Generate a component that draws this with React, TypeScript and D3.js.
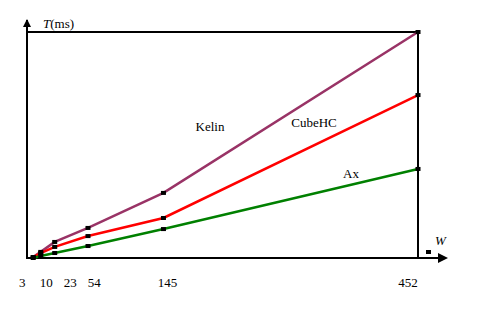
import React from 'react';
import * as d3 from 'd3';

// data (y in arbitrary ms units, Kelin at 452 = 100)
const sizes = [3, 10, 23, 54, 145, 452];
const kelin = [0.4, 2.7, 7.1, 13.3, 28.8, 100];
const cubeHC = [0.4, 2.2, 4.9, 9.7, 17.7, 72.1];
const ax = [0, 0.9, 2.2, 5.3, 12.8, 39.4];
const seriesNames = ['Kelin', 'CubeHC', 'Ax'];
const seriesColors = ['#993366', '#ff0000', '#008000'];

const W = 492;
const H = 324;
const left = 27;
const right = 418;
const top = 32;
const bottom = 258;

// spread labels so they keep a minimum gap, clusters centred on their mean
function dodge(xs: number[], gap: number): number[] {
  let clusters: { sum: number; n: number }[] = [];
  xs.forEach((x) => {
    clusters.push({ sum: x, n: 1 });
    while (clusters.length > 1) {
      const a = clusters[clusters.length - 2];
      const b = clusters[clusters.length - 1];
      const aEnd = a.sum / a.n + ((a.n - 1) * gap) / 2;
      const bStart = b.sum / b.n - ((b.n - 1) * gap) / 2;
      if (bStart - aEnd >= gap) break;
      clusters.splice(clusters.length - 2, 2, { sum: a.sum + b.sum, n: a.n + b.n });
    }
  });
  const out: number[] = [];
  clusters.forEach((c) => {
    const mid = c.sum / c.n;
    for (let i = 0; i < c.n; i++) out.push(mid + (i - (c.n - 1) / 2) * gap);
  });
  return out;
}

export default function App() {
  const x = d3.scaleLinear().domain([0, 54, 452]).range([30, 88, right]);
  const y = d3.scaleLinear().domain([0, 100]).range([bottom, top]);

  const series = [kelin, cubeHC, ax];
  const line = d3
    .line<number>()
    .x((_, i) => x(sizes[i]))
    .y((d) => y(d));

  const labelX = dodge(sizes.map((s) => x(s) + 4), 24).map((v) => Math.min(v, right - 10));

  // name labels placed next to their lines
  const nameLabels = [
    { x: 210, y: 131 },
    { x: 314, y: 127 },
    { x: 351, y: 178 },
  ];

  const txt = { fontFamily: 'Liberation Serif, DejaVu Serif, serif', fontSize: 13 };

  return (
    <svg
      width={W}
      height={H}
      style={{ position: 'absolute', left: 0, top: 0, background: '#fff' }}
    >
      {/* frame */}
      <g stroke="#000" strokeWidth={2} fill="none" shapeRendering="crispEdges">
        <line x1={left} y1={top} x2={right} y2={top} />
        <line x1={right} y1={top} x2={right} y2={bottom} />
        <line x1={left} y1={20} x2={left} y2={bottom + 1} />
        <line x1={left} y1={bottom} x2={440} y2={bottom} />
      </g>
      {/* axis arrows */}
      <path d={`M${left - 4},${27} L${left},${19} L${left + 4},${27} Z`} fill="#000" />
      <path d={`M${438},${253} L${448},${258} L${438},${263} Z`} fill="#000" />
      <rect x={426} y={250} width={5} height={4} fill="#000" />

      {/* series */}
      {series.map((s, k) => (
        <path
          key={seriesNames[k]}
          d={line(s) || ''}
          fill="none"
          stroke={seriesColors[k]}
          strokeWidth={2.5}
        />
      ))}
      {series.map((s, k) =>
        s.map((v, i) => (
          <rect
            key={`${k}-${i}`}
            x={x(sizes[i]) - 2.5}
            y={y(v) - 2}
            width={5}
            height={4}
            fill="#000"
          />
        ))
      )}

      {/* axis titles */}
      <text x={43} y={28} style={txt}>
        <tspan fontStyle="italic">T</tspan>(ms)
      </text>
      <text x={435} y={245} style={txt} fontStyle="italic">
        W
      </text>

      {/* tick labels */}
      {sizes.map((s, i) => (
        <text key={s} x={labelX[i]} y={287} textAnchor="middle" style={txt}>
          {s}
        </text>
      ))}

      {/* series names */}
      {seriesNames.map((n, k) => (
        <text
          key={n}
          x={nameLabels[k].x}
          y={nameLabels[k].y}
          textAnchor="middle"
          style={txt}
        >
          {n}
        </text>
      ))}
    </svg>
  );
}
